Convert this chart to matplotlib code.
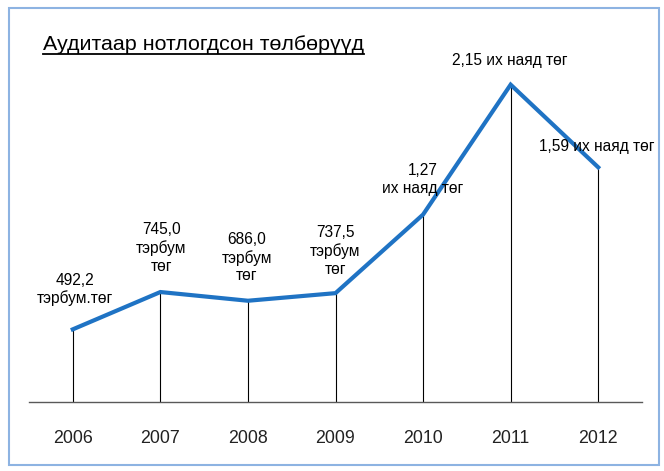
import matplotlib.pyplot as plt
from matplotlib.patches import Rectangle

## Chart data (billion tugrik)
years = ["2006", "2007", "2008", "2009", "2010", "2011", "2012"]
values = [492.2, 745.0, 686.0, 737.5, 1270.0, 2150.0, 1590.0]
labels = [
    "492,2\nтэрбум.төг",
    "745,0\nтэрбум\nтөг",
    "686,0\nтэрбум\nтөг",
    "737,5\nтэрбум\nтөг",
    "1,27\nих наяд төг",
    "2,15 их наяд төг",
    "1,59 их наяд төг",
]
title = "Аудитаар нотлогдсон төлбөрүүд"

# label offsets from the point, in pixels
label_offsets = [(2, 40), (1, 44), (-1, 43), (0, 42), (0, 35), (-1, 24), (-1, 21)]

W, H = 664, 471
fig = plt.figure(figsize=(W / 100, H / 100), dpi=100)

# axes placed in pixel units: left 29, right 642, baseline at y=402
ax = fig.add_axes([29 / W, (H - 402) / H, (642 - 29) / W, (402 - 33) / H])
x = list(range(len(years)))
ax.set_xlim(-0.5, len(years) - 0.5)
ax.set_ylim(0, 2500)

# drop lines
ax.vlines(x, 0, values, colors="black", linewidth=0.8, zorder=2)
ax.plot(x, values, color="#1F73C4", linewidth=3, solid_joinstyle="miter", zorder=3)

for i, (v, lab) in enumerate(zip(values, labels)):
    dx, dy = label_offsets[i]
    ax.annotate(lab, xy=(i, v), xytext=(dx, dy), textcoords="offset pixels",
                ha="center", va="center", fontsize=11.2, linespacing=1.22,
                family=["Liberation Sans", "DejaVu Sans"], color="black", zorder=4)

for side in ["left", "right", "top"]:
    ax.spines[side].set_visible(False)
ax.spines["bottom"].set_color("#595959")
ax.spines["bottom"].set_linewidth(1)
ax.set_yticks([])
ax.set_xticks(x)
ax.set_xticklabels(years, family=["Liberation Sans", "DejaVu Sans"],
                   fontsize=12.8, color="#222222")
ax.tick_params(axis="x", length=0, pad=20)

t = fig.text(43 / W, 1 - 50 / H, title, fontsize=15.4, ha="left", va="baseline",
             family=["Liberation Sans", "DejaVu Sans"])
# underline under the title, as wide as the text
fig.canvas.draw()
bb = t.get_window_extent().transformed(fig.transFigure.inverted())
fig.add_artist(plt.Line2D([bb.x0, bb.x1], [1 - 53.5 / H, 1 - 53.5 / H],
                          color="black", linewidth=1.3))

# outer frame
fig.add_artist(Rectangle((9 / W, 1 - 465 / H), (659 - 9) / W, (465 - 8) / H,
                         fill=False, edgecolor="#8DB3E2", linewidth=1.5))

fig.savefig("out.png", dpi=100)
